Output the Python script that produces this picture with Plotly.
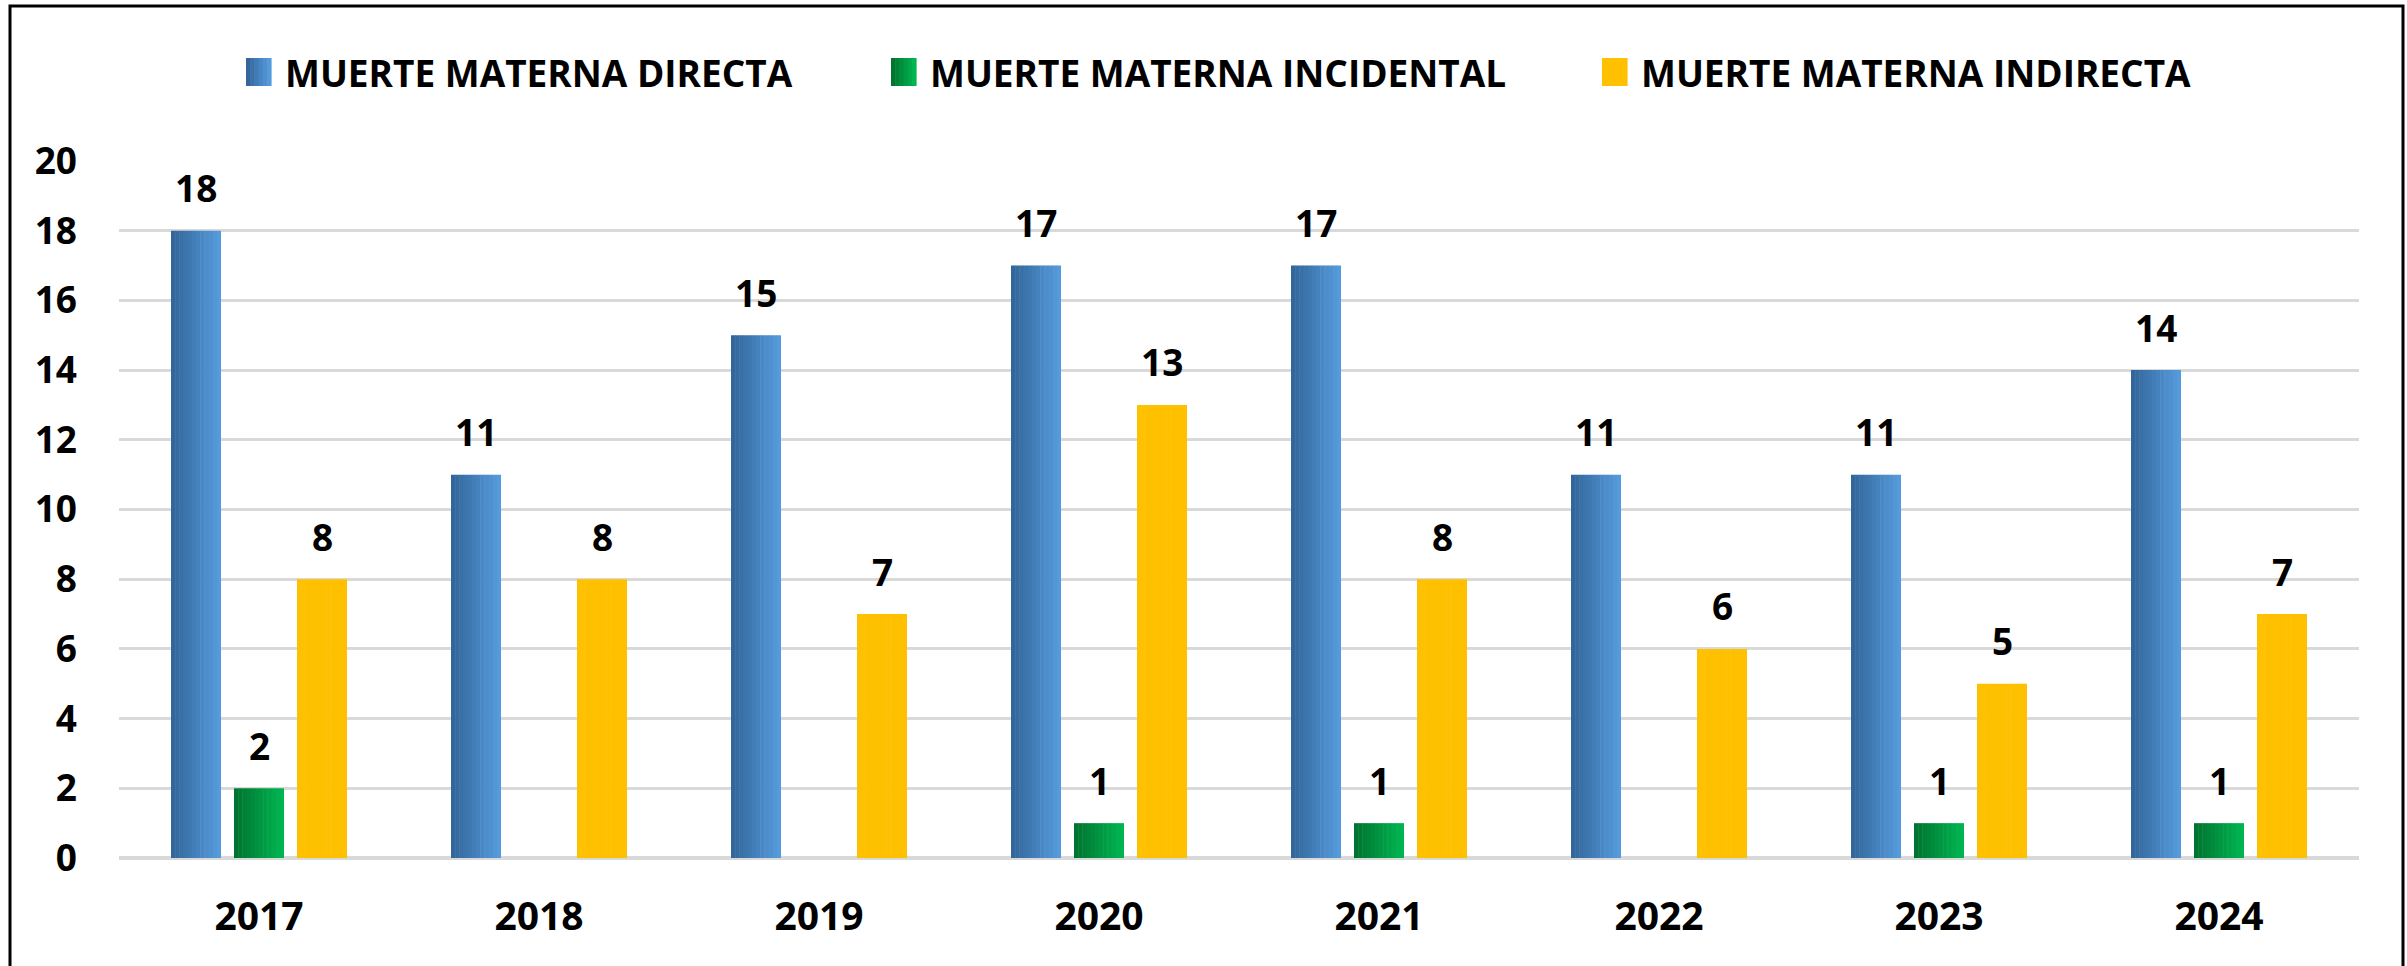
import plotly.graph_objects as go

# ---- data ----
years = ["2017", "2018", "2019", "2020", "2021", "2022", "2023", "2024"]
directa = [18, 11, 15, 17, 17, 11, 11, 14]
incidental = [2, None, None, 1, 1, None, 1, 1]
indirecta = [8, 8, 7, 13, 8, 6, 5, 7]
series_names = ["MUERTE MATERNA DIRECTA", "MUERTE MATERNA INCIDENTAL", "MUERTE MATERNA INDIRECTA"]
y_ticks = [0, 2, 4, 6, 8, 10, 12, 14, 16, 18, 20]

# ---- styling ----
W, H = 2407, 966
ML, MR, MT, MB = 119, 48, 161, 108
PW, PH = W - ML - MR, H - MT - MB
FONT = "Open Sans"
grad = [("#33669A", "#559BDC"), ("#007530", "#00B550"), ("#FFC000", "#FFC000")]
bar_w = 50 / 280
centers = [-63 / 280, 0.0, 63 / 280]
NS = 12


def mix(c1, c2, t):
    a = [int(c1[i:i + 2], 16) for i in (1, 3, 5)]
    b = [int(c2[i:i + 2], 16) for i in (1, 3, 5)]
    return "#%02x%02x%02x" % tuple(round(a[k] + (b[k] - a[k]) * t) for k in range(3))


def xp(X):
    return (X - ML) / PW


def yp(Y):
    return (H - MB - Y) / PH


idx = list(range(len(years)))
fig = go.Figure()
for s, vals in enumerate([directa, incidental, indirecta]):
    c1, c2 = grad[s]
    for k in range(NS):
        t = k / (NS - 1)
        fig.add_trace(go.Bar(
            x=idx, y=vals,
            offset=centers[s] - bar_w / 2 + k * bar_w / NS,
            width=bar_w / NS * (1.12 if k < NS - 1 else 1.0),
            marker=dict(color=mix(c1, c2, t), line=dict(width=0)),
            showlegend=False, hoverinfo="skip",
        ))

annotations = []
for s, vals in enumerate([directa, incidental, indirecta]):
    for j, v in enumerate(vals):
        if v is None:
            continue
        annotations.append(dict(
            x=j + centers[s], y=v, xref="x", yref="y", text=str(v),
            showarrow=False, yanchor="middle", yshift=43,
            font=dict(family=FONT, size=37, color="black", weight="bold"),
        ))

# custom legend
shapes = []
legend_sq = [246, 891, 1602]
legend_tx = [283, 928, 1639]
for s in range(3):
    c1, c2 = grad[s]
    n = 6
    for k in range(n):
        x0 = legend_sq[s] + k * 25 / n
        shapes.append(dict(type="rect", xref="paper", yref="paper",
                           x0=xp(x0), x1=xp(x0 + 25 / n + 0.6),
                           y0=yp(86), y1=yp(58),
                           fillcolor=mix(c1, c2, k / (n - 1)), line=dict(width=0)))
    annotations.append(dict(
        x=xp(legend_tx[s]), y=yp(72), xref="paper", yref="paper",
        text=series_names[s], showarrow=False, xanchor="left", yanchor="middle",
        font=dict(family=FONT, size=37, color="black", weight="bold"),
    ))

# outer frame
shapes.append(dict(type="rect", xref="paper", yref="paper",
                   x0=xp(10), x1=xp(2403), y0=yp(990), y1=yp(6),
                   line=dict(color="black", width=3), fillcolor="rgba(0,0,0,0)",
                   layer="above"))

fig.update_layout(
    width=W, height=H,
    margin=dict(l=ML, r=MR, t=MT, b=MB, pad=0),
    barmode="overlay",
    plot_bgcolor="white", paper_bgcolor="white",
    showlegend=False,
    annotations=annotations,
    shapes=shapes,
    font=dict(family=FONT, color="black"),
)
fig.update_xaxes(
    range=[-0.5, len(years) - 0.5], tickmode="array", tickvals=idx, ticktext=years,
    showgrid=False, zeroline=False, showline=False, ticks="",
    tickfont=dict(family=FONT, size=39, color="black", weight="bold"),
    ticklabelstandoff=32,
)
fig.update_yaxes(
    range=[0, 20.0001], tickmode="array", tickvals=y_ticks,
    showgrid=True, gridcolor="#D9D9D9", gridwidth=3,
    zeroline=True, zerolinecolor="#D9D9D9", zerolinewidth=4,
    showline=False, ticks="",
    tickfont=dict(family=FONT, size=37, color="black", weight="bold"),
    ticklabelstandoff=41,
)

fig.write_html(
    "out.html",
    config={"displayModeBar": False},
    post_script="document.body.style.margin='0';document.body.style.overflow='hidden';",
)
